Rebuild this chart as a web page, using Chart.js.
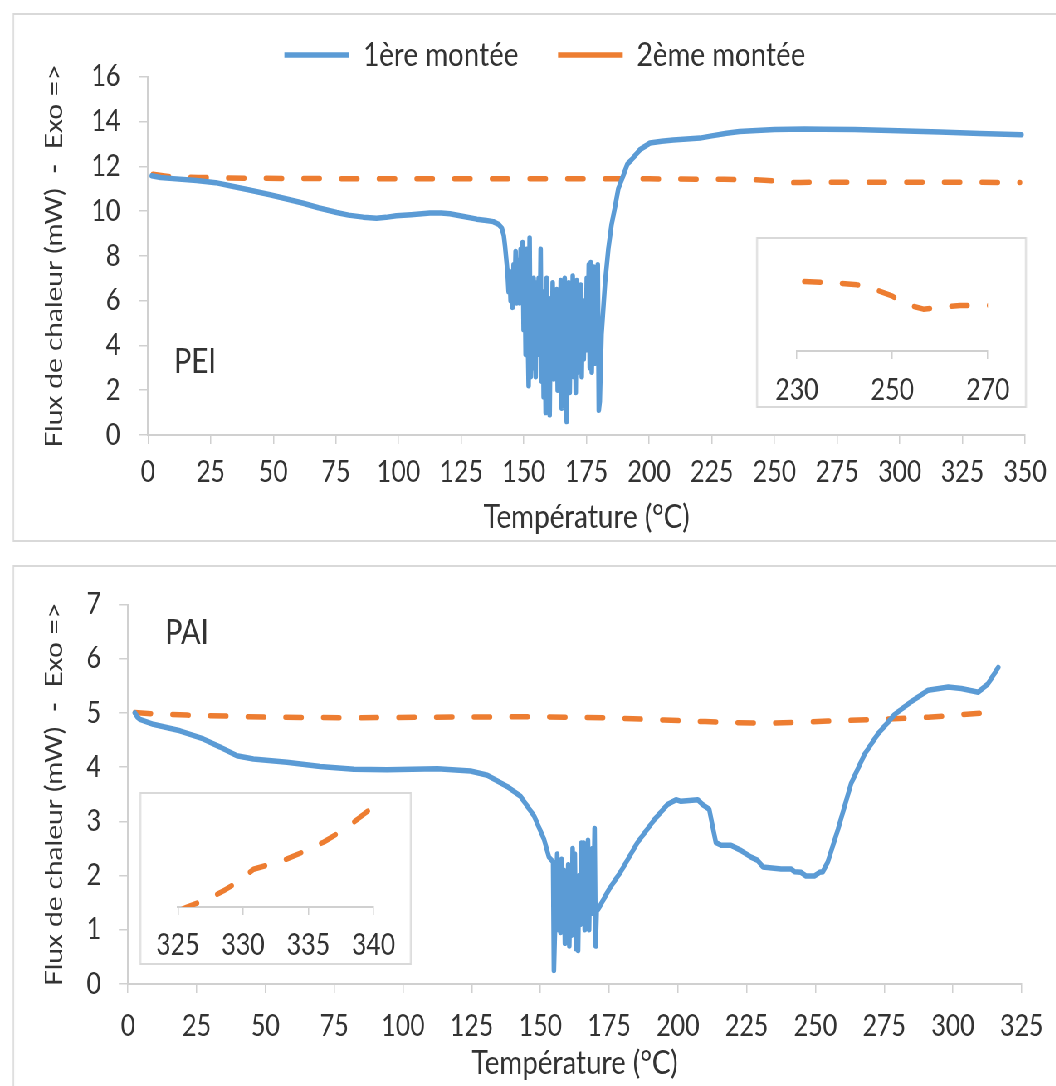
<!DOCTYPE html>
<html><head><meta charset="utf-8">
<script src="https://cdn.jsdelivr.net/npm/chart.js@4.4.1/dist/chart.umd.min.js"></script>
<style>
html,body{margin:0;padding:0;background:#fff;overflow:hidden;width:1056px;height:1086px;}
#wrap{position:absolute;left:0;top:0;width:1315px;height:1086px;transform:scaleX(0.83);transform-origin:0 0;}
.panel{position:absolute;border:2px solid #d9d9d9;box-sizing:border-box;background:#fff;}
.inset{position:absolute;border:2px solid #d9d9d9;box-sizing:border-box;background:#fff;}
canvas{position:absolute;display:block;}
</style></head>
<body>
<div id="wrap">
  <div class="panel" style="left:14.5px;top:13px;width:1300px;height:529px;"></div>
  <div class="panel" style="left:14.5px;top:565px;width:1300px;height:540px;"></div>
  <canvas id="c1" width="1313" height="528" style="left:0;top:13px;"></canvas>
  <canvas id="c2" width="1272" height="521" style="left:0;top:565px;"></canvas>
  <div class="inset" style="left:910.8px;top:237px;width:326.5px;height:171px;">
    <canvas id="i1" width="322" height="167" style="left:0;top:0;"></canvas>
  </div>
  <div class="inset" style="left:167.8px;top:791.7px;width:328.2px;height:173.3px;">
    <canvas id="i2" width="324" height="169" style="left:0;top:0;"></canvas>
  </div>
</div>
<script>
// ---------- DATA ----------
// PEI, 1ère montée
const peiT1 = [1.5,5,10,19.4,27,32.7,40,48.7,55,62,68,75.3,80,85.9,91.2,95,99.1,105,112.5,117,120.5,125,131.2,135,137.8,140,141.2,142,142.5,143.2,
143.5,143.9,144.3,144.7,145.1,145.5,145.9,146.3,146.7,147.1,147.5,147.9,148.3,148.7,149.1,149.5,149.9,150.3,150.7,151.1,151.5,151.9,152.3,152.7,153.1,153.5,153.9,154.3,154.7,155.1,155.5,155.9,156.3,156.7,157.1,157.5,157.9,158.3,158.7,159.1,159.5,159.9,160.3,160.7,161.1,161.5,161.9,162.3,162.7,163.1,163.5,163.9,164.3,164.7,165.1,165.5,165.9,166.3,166.7,167.1,167.5,167.9,168.3,168.7,169.1,169.5,169.9,170.3,170.7,171.1,171.5,171.9,172.3,172.7,173.1,173.5,173.9,174.3,174.7,175.1,175.5,175.9,176.3,176.7,177.1,177.5,177.9,178.3,178.7,179.1,179.5,179.9,180.3,
181,182.4,183.7,185,186.4,187.7,189.7,191.3,193,196.3,200.3,205,209.6,215,220.3,225,230.9,236,242.9,250,256.2,262,269.5,282,296.1,306,316,332,348.6];
const peiV1 = [11.58,11.5,11.45,11.37,11.27,11.13,10.95,10.73,10.55,10.35,10.15,9.94,9.82,9.73,9.68,9.72,9.79,9.84,9.91,9.92,9.88,9.78,9.64,9.58,9.53,9.4,9.24,8.9,8.42,7.6,
7.2,6.4,7.3,6.0,6.9,5.7,7.6,6.1,8.2,5.9,7.8,6.6,5.9,8.3,6.2,8.6,4.7,7.4,3.6,8.3,4.9,2.2,8.8,2.6,6.2,3.0,7.0,4.5,2.6,6.8,3.6,7.0,4.2,8.3,2.4,6.4,1.7,5.3,1.0,7.0,3.2,6.1,0.9,5.6,3.0,6.8,2.5,4.9,2.8,6.5,2.0,5.0,2.6,6.9,1.2,6.2,3.1,7.0,2.0,0.6,3.6,6.8,1.9,5.4,3.3,7.1,2.6,6.4,1.9,6.9,2.8,5.8,3.8,6.7,2.6,6.0,3.4,5.4,3.8,7.0,4.6,7.6,3.0,7.7,2.8,5.2,7.5,3.2,6.9,5.0,7.6,1.1,1.5,
4.5,6.8,8.3,9.4,10.2,11.0,11.6,12.1,12.3,12.74,13.04,13.12,13.18,13.22,13.26,13.36,13.48,13.55,13.6,13.64,13.66,13.67,13.66,13.64,13.6,13.57,13.53,13.47,13.41];
// PEI, 2ème montée
const peiT2 = [2,8,20,40,70,100,150,200,230,238.5,242.6,246,250,252.3,256.5,260.4,264.2,268,300,348];
const peiV2 = [11.65,11.55,11.5,11.47,11.45,11.44,11.44,11.44,11.42,11.41,11.40,11.38,11.34,11.30,11.27,11.28,11.29,11.29,11.29,11.28];
// PAI, 1ère montée
const paiT1 = [2.5,3.5,4.4,9.2,18.9,27.4,33.5,39.6,45.6,57.8,69.9,82.1,94.2,112.5,124.6,130.7,138,142.8,147.7,151.3,153.1,154.6,
154.9,155.6,156.1,156.5,156.9,157.3,157.7,158.1,158.5,158.9,159.3,159.7,160.1,160.5,160.9,161.3,161.7,162.1,162.5,162.9,163.3,163.7,164.1,164.5,164.9,165.3,165.7,166.1,166.5,166.9,167.3,167.7,168.1,168.5,168.9,169.2,169.7,170.1,170.5,
170.9,175,179.2,185.3,191.4,196.2,199.3,201.1,207.2,209,211.4,212.6,213.8,215.7,219.3,223,226.6,229,230.9,237.5,241.2,242.4,244.8,246.6,249.6,251.5,252.7,254.5,258.2,263,267.9,272.7,278.8,284.9,291,298.3,303.1,309.2,312.8,316.5];
const paiV1 = [5.0,4.92,4.88,4.79,4.67,4.52,4.37,4.21,4.15,4.09,4.01,3.96,3.95,3.97,3.93,3.85,3.64,3.46,3.10,2.67,2.34,2.25,
0.25,1.6,2.4,1.0,2.2,0.95,2.3,1.3,2.1,0.75,1.9,1.0,2.2,0.7,1.8,0.9,2.5,1.2,2.4,0.65,1.5,0.62,2.0,1.1,2.6,1.4,2.6,1.0,2.5,1.5,2.65,1.0,2.2,1.6,2.5,1.3,2.87,0.7,1.4,
1.37,1.75,2.07,2.61,3.03,3.31,3.40,3.37,3.40,3.31,3.22,2.91,2.61,2.56,2.56,2.46,2.34,2.28,2.16,2.12,2.12,2.07,2.06,1.99,1.99,2.06,2.07,2.25,2.85,3.70,4.24,4.61,4.97,5.21,5.42,5.48,5.45,5.38,5.54,5.84];
// PAI, 2ème montée
const paiT2 = [2.5,10,21.4,51.7,82.1,106.4,148.9,175,195,210,222,232,245,254.5,272.7,291,303.1,316.5];
const paiV2 = [5.01,4.98,4.96,4.92,4.91,4.92,4.93,4.91,4.87,4.84,4.82,4.81,4.83,4.85,4.88,4.92,4.97,5.02];
// PAI inset (2ème montée, 325-340 °C)
const paiInsetT = [325.3,325.7,327.5,328.5,329.8,330.8,332.3,333.3,334.9,336.2,337.4,338.5,340];
const paiInsetV = [4.99,5.0,5.036,5.065,5.109,5.152,5.176,5.192,5.229,5.262,5.302,5.342,5.405];

const seriesLabels = ['1ère montée', '2ème montée'];
const xTitle = 'Température (°C)';
const yTitle = 'Flux de chaleur (mW)  -  Exo =>';

// ---------- STYLE ----------
Chart.defaults.font.family = 'Lato';
Chart.defaults.color = '#333333';
const AXIS = '#d0d0d0';
const BLUE = '#5B9BD5', ORANGE = '#ED7D31';
const DASH = [19.4, 26];
const LW = 5.5;

function pts(T, V) { return T.map((t, i) => ({x: t, y: V[i]})); }
function blueDs(T, V) {
  return {label: seriesLabels[0], data: pts(T, V), borderColor: BLUE, backgroundColor: BLUE,
    borderWidth: LW, pointRadius: 0, borderCapStyle: 'round', borderJoinStyle: 'round', tension: 0};
}
function orangeDs(T, V) {
  return {label: seriesLabels[1], data: pts(T, V), borderColor: ORANGE, backgroundColor: ORANGE,
    borderWidth: LW, borderDash: DASH, pointRadius: 0, borderCapStyle: 'round', borderJoinStyle: 'round', tension: 0};
}
const panelText = {
  id: 'panelText',
  afterDraw(chart, args, o) {
    if (!o || !o.text) return;
    const c = chart.ctx; c.save();
    c.font = o.size + 'px Lato'; c.fillStyle = '#333333';
    c.textBaseline = 'middle'; c.textAlign = 'left';
    c.fillText(o.text, o.x, o.y); c.restore();
  }
};
// trims the legend box height so the plot starts right under it
const legendTrim = {
  id: 'legendTrim',
  afterInit(chart, args, o) {
    const lg = chart.legend;
    if (!lg || !o || !o.delta) return;
    const fit = lg.fit.bind(lg);
    lg.fit = function () { fit(); this.height += o.delta; };
  }
};
function gridOpts(len) {
  return {display: true, drawOnChartArea: false, drawTicks: true, tickLength: len, color: AXIS, lineWidth: 1.5};
}
function mainOptions(cfg) {
  const scales = {
    x: {type: 'linear', min: cfg.xmin, max: cfg.xmax,
      afterFit(s) { s.height = cfg.xh; },
      ticks: {stepSize: 25, autoSkip: false, maxRotation: 0, minRotation: 0, padding: cfg.xpad, font: {size: 30}},
      grid: gridOpts(9), border: {display: true, color: AXIS, width: 2},
      title: {display: true, text: xTitle, font: {size: 33.5, lineHeight: 1}, padding: {top: 0, bottom: cfg.tpad}}},
    y: {type: 'linear', min: 0, max: cfg.ymax,
      afterFit(s) { s.width = cfg.yw; },
      ticks: {stepSize: cfg.ystep, padding: cfg.ypad, font: {size: 30}},
      grid: gridOpts(11), border: {display: true, color: AXIS, width: 2},
      title: {display: true, text: yTitle, font: {size: 28}, padding: {top: 49.5, bottom: 0}}}
  };
  if (cfg.rightW) {
    scales.yR = {position: 'right', display: true, grid: {display: false}, border: {display: false},
      ticks: {display: false}, afterFit(s) { s.width = cfg.rightW; }};
  }
  return {
    responsive: false, animation: false, events: [],
    layout: {padding: cfg.padding},
    plugins: {
      legend: cfg.legend ? {display: true, position: 'top',
        labels: {usePointStyle: true, pointStyle: 'line', pointStyleWidth: 78, padding: 47.75, font: {size: 33.5}, color: '#333333'}}
        : {display: false},
      legendTrim: {delta: cfg.legend ? -5 : 0},
      tooltip: {enabled: false},
      panelText: cfg.label
    },
    scales
  };
}
function insetOptions(cfg) {
  return {
    responsive: false, animation: false, events: [],
    layout: {padding: cfg.padding},
    plugins: {legend: {display: false}, tooltip: {enabled: false}},
    scales: {
      x: {type: 'linear', min: cfg.xmin, max: cfg.xmax,
        afterFit(s) { s.height = cfg.xh; },
        ticks: {stepSize: cfg.step, autoSkip: false, maxRotation: 0, minRotation: 0, padding: cfg.xpad, font: {size: 30}},
        grid: gridOpts(8), border: {display: true, color: AXIS, width: 2}},
      y: {display: false, min: cfg.ymin, max: cfg.ymax}
    }
  };
}

// ---------- CHARTS ----------
new Chart(document.getElementById('c1'), {
  type: 'line',
  data: {datasets: [blueDs(peiT1, peiV1), orangeDs(peiT2, peiV2)]},
  options: mainOptions({xmin: 0, xmax: 350, xh: 106, xpad: 10, tpad: 7.25, ymax: 16, ystep: 2, yw: 178.3, ypad: 22.5,
    rightW: 78, legend: true, padding: {top: -22.5, left: 0, right: 0, bottom: 0},
    label: {text: 'PEI', x: 209.6, y: 349, size: 35}}),
  plugins: [panelText, legendTrim]
});
new Chart(document.getElementById('c2'), {
  type: 'line',
  data: {datasets: [blueDs(paiT1, paiV1), orangeDs(paiT2, paiV2)]},
  options: mainOptions({xmin: 0, xmax: 325, xh: 102, xpad: 15, tpad: 6.25, ymax: 7, ystep: 1, yw: 154.2, ypad: 21.5,
    rightW: 0, legend: false, padding: {top: 33, left: 0, right: 40.3, bottom: 0},
    label: {text: 'PAI', x: 198.8, y: 68, size: 35}}),
  plugins: [panelText]
});
new Chart(document.getElementById('i1'), {
  type: 'line',
  data: {datasets: [orangeDs(peiT2, peiV2)]},
  options: insetOptions({xmin: 230, xmax: 270, step: 20, xh: 55, xpad: 13, ymin: 11.046, ymax: 11.64,
    padding: {top: 1, left: 47.1, right: 44.8, bottom: 0}})
});
new Chart(document.getElementById('i2'), {
  type: 'line',
  data: {datasets: [orangeDs(paiInsetT, paiInsetV)]},
  options: insetOptions({xmin: 325, xmax: 340, step: 5, xh: 56, xpad: 12, ymin: 5.0, ymax: 5.45,
    padding: {top: 1.3, left: 44.3, right: 44, bottom: 0}})
});
</script>
</body></html>
